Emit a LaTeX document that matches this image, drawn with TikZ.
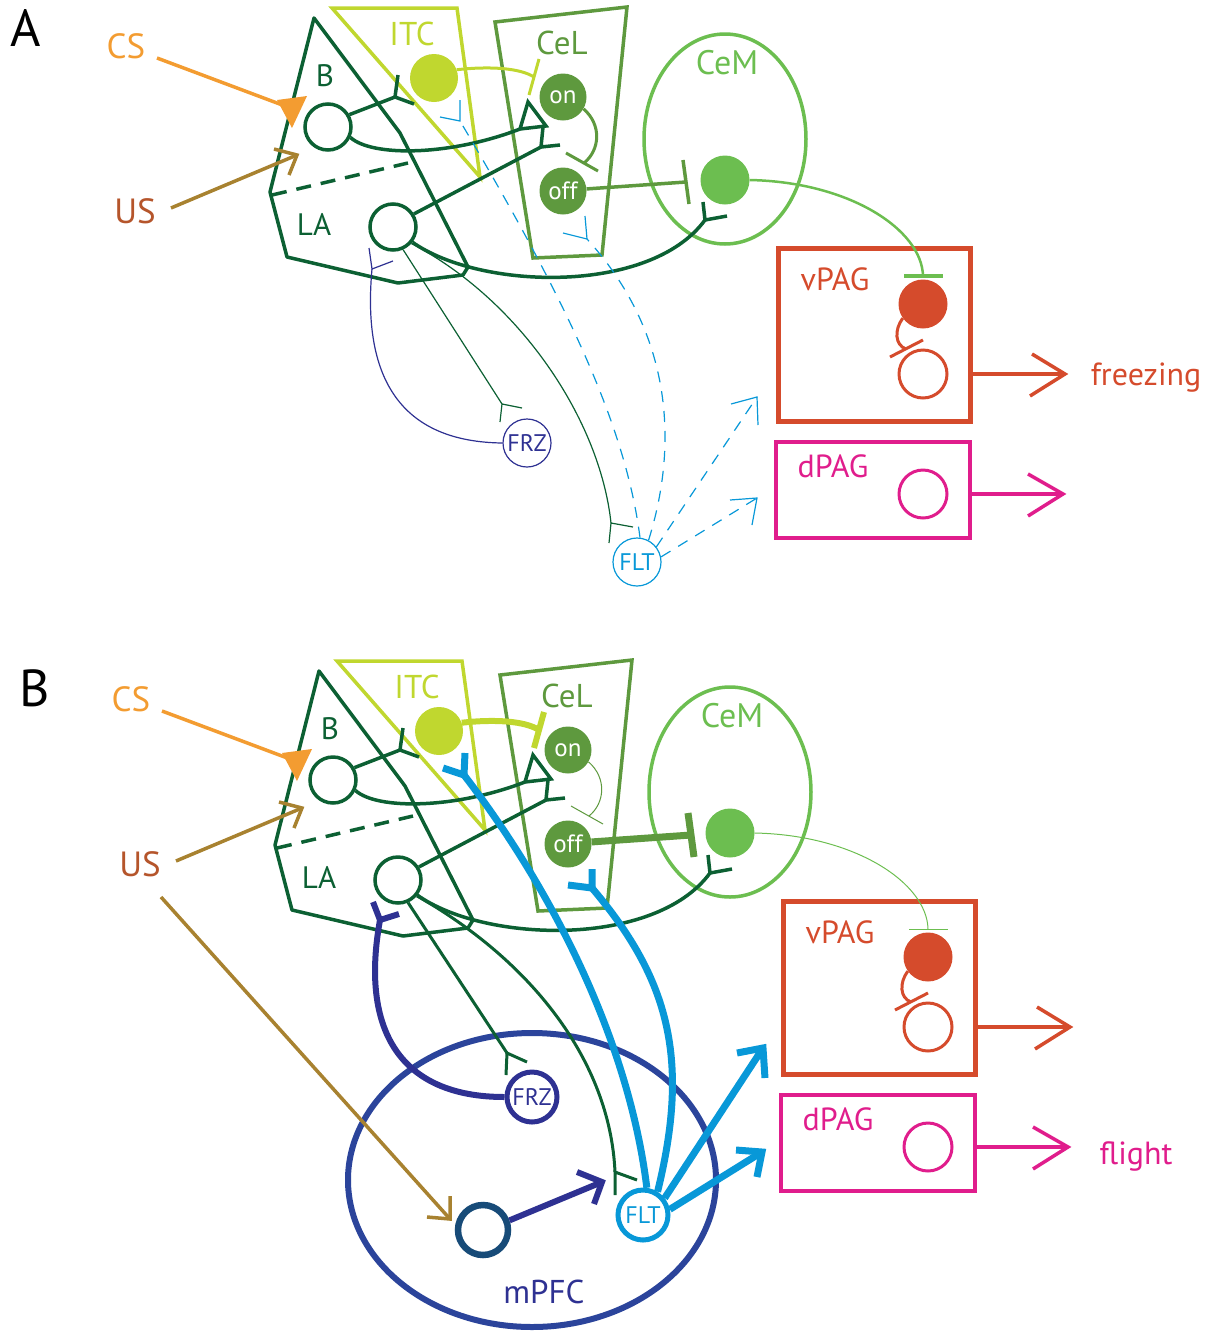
\documentclass[tikz,border=0pt]{standalone}
\usepackage{fontspec}
\setmainfont{PT Sans}
\usetikzlibrary{shapes.geometric}

\definecolor{dkgreen}{RGB}{12,96,51}
\definecolor{itcgreen}{RGB}{192,215,47}
\definecolor{celgreen}{RGB}{94,153,62}
\definecolor{cemgreen}{RGB}{108,190,80}
\definecolor{pagred}{RGB}{213,75,44}
\definecolor{pagmag}{RGB}{224,29,140}
\definecolor{csorange}{RGB}{243,156,49}
\definecolor{uslabel}{RGB}{181,85,43}
\definecolor{usarrow}{RGB}{168,130,48}
\definecolor{navy}{RGB}{46,49,146}
\definecolor{pfcblue}{RGB}{43,68,155}
\definecolor{fltcyan}{RGB}{8,152,216}
\definecolor{pfcneuron}{RGB}{23,75,120}

\newcommand{\fsz}[1]{\fontsize{#1}{#1}\selectfont}

\tikzset{
  region/.style={line width=3.5pt},
  axon/.style={line width=3.5pt},
  thinaxon/.style={line width=1.2pt},
  dashpat/.style={dash pattern=on 11pt off 9pt},
  lab/.style={inner sep=0pt, font=\fsz{32}},
  openn/.style={circle, draw, inner sep=0pt, minimum size=46pt, line width=3.5pt},
  filln/.style={circle, fill, inner sep=0pt, minimum size=48pt},
  itcon/.style={line width=3pt},
  itcbar/.style={line width=3pt},
  onoff/.style={line width=3pt},
  onbar/.style={line width=3pt},
  offcem/.style={line width=3.5pt},
  offbar/.style={line width=3.5pt},
  cempag/.style={line width=2.5pt},
  cembar/.style={line width=3.5pt},
}

% Amygdala -> PAG circuit shared by both panels; #1 prefixes the node names
\newcommand{\amygcircuit}[1]{%
  % nuclei
  \draw[dkgreen, region, line join=round] (314,18) -- (400,133) -- (468,267) -- (463,275) -- (398,283) -- (287,257) -- (270,192) -- cycle;
  \draw[dkgreen, region, dash pattern=on 15pt off 10pt] (272,195) -- (408,163);
  \draw[itcgreen, region] (332,8) -- (457,8) -- (480,177) -- cycle;
  \draw[celgreen, region] (495,22) -- (627,7) -- (602,255) -- (533,258) -- cycle;
  \draw[cemgreen, region] (725,139) ellipse [x radius=81pt, y radius=105pt];
  \node[draw=pagred, line width=5pt, minimum width=192pt, minimum height=173pt, inner sep=0pt] (#1vPAG) at (874,334.5) {};
  \node[draw=pagmag, line width=3.5pt, minimum width=194pt, minimum height=96pt, inner sep=0pt] (#1dPAG) at (873,490) {};
  % labels
  \node[lab, dkgreen, font=\fsz{31}] (#1labB) at (325,76) {B};
  \node[lab, dkgreen, font=\fsz{31}] (#1labLA) at (314,224) {LA};
  \node[lab, itcgreen, font=\fsz{33}] (#1labITC) at (412,34) {ITC};
  \node[lab, celgreen, font=\fsz{33}] (#1labCeL) at (562,43) {CeL};
  \node[lab, cemgreen, font=\fsz{34}] (#1labCeM) at (727,63) {CeM};
  \node[lab, pagred] (#1labv) at (835,279) {vPAG};
  \node[lab, pagmag] (#1labd) at (833,466) {dPAG};
  \node[lab, csorange, font=\fsz{35}] (#1CS) at (126,46) {CS};
  \node[lab, uslabel, font=\fsz{35}] (#1US) at (135,211) {US};
  % neurons
  \node[openn, dkgreen] (#1B) at (328,127) {};
  \node[openn, dkgreen] (#1LA) at (393,227) {};
  \node[filln, itcgreen] (#1ITC) at (434,78) {};
  \node[filln, celgreen, text=white, minimum size=47pt, font=\fsz{25}] (#1on) at (563,97) {on};
  \node[filln, celgreen, text=white, minimum size=47pt, font=\fsz{25}] (#1off) at (563,191) {off};
  \node[filln, cemgreen, minimum size=49pt] (#1CeM) at (725,180) {};
  \node[filln, pagred, minimum size=49pt] (#1vf) at (923,304) {};
  \node[openn, pagred, minimum size=48pt, line width=3pt] (#1vo) at (923,374) {};
  \node[openn, pagmag, minimum size=48pt, line width=3pt] (#1do) at (923,494) {};
  % sensory inputs
  \coordinate (#1csT) at (285,106);
  \draw[csorange, axon] (157,58) -- (#1csT);
  \fill[csorange] (277,100) -- (307,96) -- (292,128) -- cycle;
  \coordinate (#1usT) at (297,155);
  \draw[usarrow, axon] (171,208) -- (#1usT);
  \draw[usarrow, axon] (274,149) -- (#1usT) -- (289,175);
  % B -> ITC
  \coordinate (#1fBI) at (395,97);
  \draw[dkgreen, axon] (#1B.30) -- (#1fBI);
  \draw[dkgreen, axon] (398,75) -- (#1fBI) -- (414,104);
  % B -> CeL on (excitatory terminal)
  \draw[dkgreen, axon] (#1B.-25) .. controls (372,157) and (450,156) .. (520,129);
  \draw[dkgreen, axon, line join=miter] (520,129) -- (528,102) -- (546,126) -- cycle;
  % LA -> CeL
  \coordinate (#1fLC) at (541,147);
  \draw[dkgreen, axon] (#1LA.32) -- (#1fLC);
  \draw[dkgreen, axon] (543,127) -- (#1fLC) -- (560,145);
  % LA -> CeM
  \coordinate (#1fLM) at (705,220);
  \draw[dkgreen, axon] (#1LA.-38) .. controls (480,290) and (650,295) .. (#1fLM);
  \draw[dkgreen, axon] (703,202) -- (#1fLM) -- (727,216);
  % ITC -| on
  \draw[itcgreen, itcon] (#1ITC.20) .. controls (490,66) and (520,68) .. (534,77);
  \draw[itcgreen, itcbar] (539,59) -- (529,95);
  % on -| off
  \draw[celgreen, onoff] (#1on.-30) .. controls (602,125) and (600,150) .. (584,163);
  \draw[celgreen, onbar] (566,153) -- (598,171);
  % off -| CeM
  \draw[celgreen, offcem] (#1off.5) -- (686,182);
  \draw[celgreen, offbar] (683,160) -- (689,204);
  % CeM -| vPAG
  \draw[cemgreen, cempag] (#1CeM.east) .. controls (850,182) and (922,230) .. (923,276);
  \draw[cemgreen, cembar] (904,276) -- (943,276);
  % local inhibition inside vPAG
  \draw[pagred, line width=3pt] (#1vf.215) .. controls (894,330) and (895,345) .. (906,349);
  \draw[pagred, line width=3pt] (890,357) -- (923,340);
  % PAG outputs
  \coordinate (#1vT) at (1065,374);
  \draw[pagred, axon] (#1vo -| #1vPAG.east) -- (#1vT);
  \draw[pagred, axon] (1032,354) -- (#1vT) -- (1030,396);
  \coordinate (#1dT) at (1063,494);
  \draw[pagmag, axon] (#1do -| #1dPAG.east) -- (#1dT);
  \draw[pagmag, axon] (1028,474) -- (#1dT) -- (1028,516);
}

\begin{document}
\begin{tikzpicture}[x=1pt, y=-1pt]
\useasboundingbox (0,0) rectangle (1212,1334);

% ---------------- panel A ----------------
\amygcircuit{a}
\node[inner sep=0pt, font=\fsz{52}] (labA) at (26,28) {A};
\node[lab, pagred] (freeze) at (1146,378) {freezing};
\node[circle, draw=navy, line width=1.2pt, inner sep=0pt, minimum size=48pt, text=navy, font=\fsz{24}] (aFRZ) at (527,443) {FRZ};
\node[circle, draw=fltcyan, line width=1.2pt, inner sep=0pt, minimum size=48pt, text=fltcyan, font=\fsz{24}] (aFLT) at (637,562) {FLT};
% FRZ -> LA
\coordinate (aFz) at (372,269);
\draw[navy, thinaxon] (aFRZ.west) .. controls (420,442) and (360,400) .. (aFz);
\draw[navy, thinaxon] (369,248) -- (aFz) -- (393,261);
% LA -> FRZ, LA -> FLT
\coordinate (aLz) at (502,404);
\draw[dkgreen, thinaxon] (aLA.-66) -- (aLz);
\draw[dkgreen, thinaxon] (500,422) -- (aLz) -- (522,408);
\coordinate (aLf) at (611,523);
\draw[dkgreen, thinaxon] (aLA.-42) .. controls (520,300) and (600,420) .. (aLf);
\draw[dkgreen, thinaxon] (609,543) -- (aLf) -- (633,527);
% FLT -> ITC and CeL (dashed)
\coordinate (aFi) at (460,121);
\draw[fltcyan, thinaxon, dashpat] (aFLT.83) .. controls (625,420) and (560,290) .. (aFi);
\draw[fltcyan, thinaxon] (460,100) -- (aFi) -- (440,117);
\coordinate (aFc) at (587,239);
\draw[fltcyan, thinaxon, dashpat] (aFLT.62) .. controls (680,440) and (670,330) .. (aFc);
\draw[fltcyan, thinaxon] (585,216) -- (aFc) -- (563,233);
% FLT -> PAG (dashed)
\coordinate (aFv) at (757,397);
\draw[fltcyan, thinaxon, dashpat] (aFLT.38) -- (aFv);
\draw[fltcyan, thinaxon] (731,404) -- (aFv) -- (758,425);
\coordinate (aFd) at (757,498);
\draw[fltcyan, thinaxon, dashpat] (aFLT.12) -- (aFd);
\draw[fltcyan, thinaxon] (730,500) -- (aFd) -- (752,525);

% ---------------- panel B ----------------
\begin{scope}[shift={(5,653)},
  itcon/.style={line width=6pt}, itcbar/.style={line width=6pt},
  onoff/.style={line width=1pt}, onbar/.style={line width=1pt},
  offcem/.style={line width=7pt}, offbar/.style={line width=7pt},
  cempag/.style={line width=1pt}, cembar/.style={line width=1pt}]
\amygcircuit{b}
\end{scope}
\node[inner sep=0pt, font=\fsz{52}] (labB) at (35,688) {B};
\node[lab, pagmag] (flight) at (1136,1156) {flight};
\node[ellipse, draw=pfcblue, line width=6pt, inner sep=0pt, minimum width=368pt, minimum height=294pt] (mPFC) at (532,1180) {};
\node[lab, navy, font=\fsz{33}] (mPFClab) at (544,1292) {mPFC};
\node[circle, draw=navy, line width=5pt, inner sep=0pt, minimum size=50pt, text=navy, font=\fsz{24}] (bFRZ) at (532,1097) {FRZ};
\node[circle, draw=fltcyan, line width=5pt, inner sep=0pt, minimum size=50pt, text=fltcyan, font=\fsz{24}] (bFLT) at (643,1215) {FLT};
\node[circle, draw=pfcneuron, line width=6.5pt, inner sep=0pt, minimum size=50pt] (bPN) at (483,1230) {};
% US -> mPFC
\coordinate (bUm) at (450,1219);
\draw[usarrow, line width=3.5pt] (161,897) -- (bUm);
\draw[usarrow, line width=3.5pt] (427,1217) -- (bUm) -- (450,1196);
% mPFC neuron -> FLT
\coordinate (bPf) at (602,1182);
\draw[navy, line width=6pt] (bPN.20) -- (bPf);
\draw[navy, line width=6pt] (577,1172) -- (bPf) -- (594,1204);
% FRZ -> LA
\coordinate (bFz) at (380,920);
\draw[navy, line width=6pt] (bFRZ.west) .. controls (400,1097) and (360,1030) .. (bFz);
\draw[navy, line width=6pt] (373,902) -- (bFz) -- (399,914);
% LA -> FRZ, LA -> FLT
\coordinate (bLz) at (507,1053);
\draw[dkgreen, line width=3pt] (bLA.-66) -- (bLz);
\draw[dkgreen, line width=3pt] (506,1075) -- (bLz) -- (527,1062);
\coordinate (bLf) at (615,1172);
\draw[dkgreen, line width=3pt] (bLA.-40) .. controls (530,960) and (610,1060) .. (bLf);
\draw[dkgreen, line width=3pt] (615,1195) -- (bLf) -- (637,1180);
% FLT -> ITC and CeL
\coordinate (bFi) at (464,775);
\draw[fltcyan, line width=7pt] (bFLT.82) .. controls (630,1050) and (560,900) .. (bFi);
\draw[fltcyan, line width=7pt] (465,753) -- (bFi) -- (443,768);
\coordinate (bFc) at (592,888);
\draw[fltcyan, line width=7pt] (bFLT.58) .. controls (690,1060) and (670,980) .. (bFc);
\draw[fltcyan, line width=7pt] (592,869) -- (bFc) -- (568,885);
% FLT -> PAG
\coordinate (bFv) at (763,1048);
\draw[fltcyan, line width=7pt] (bFLT.38) -- (bFv);
\draw[fltcyan, line width=7pt] (737,1053) -- (bFv) -- (765,1078);
\coordinate (bFd) at (762,1152);
\draw[fltcyan, line width=7pt] (bFLT.12) -- (bFd);
\draw[fltcyan, line width=7pt] (736,1150) -- (bFd) -- (757,1177);
\end{tikzpicture}
\end{document}
